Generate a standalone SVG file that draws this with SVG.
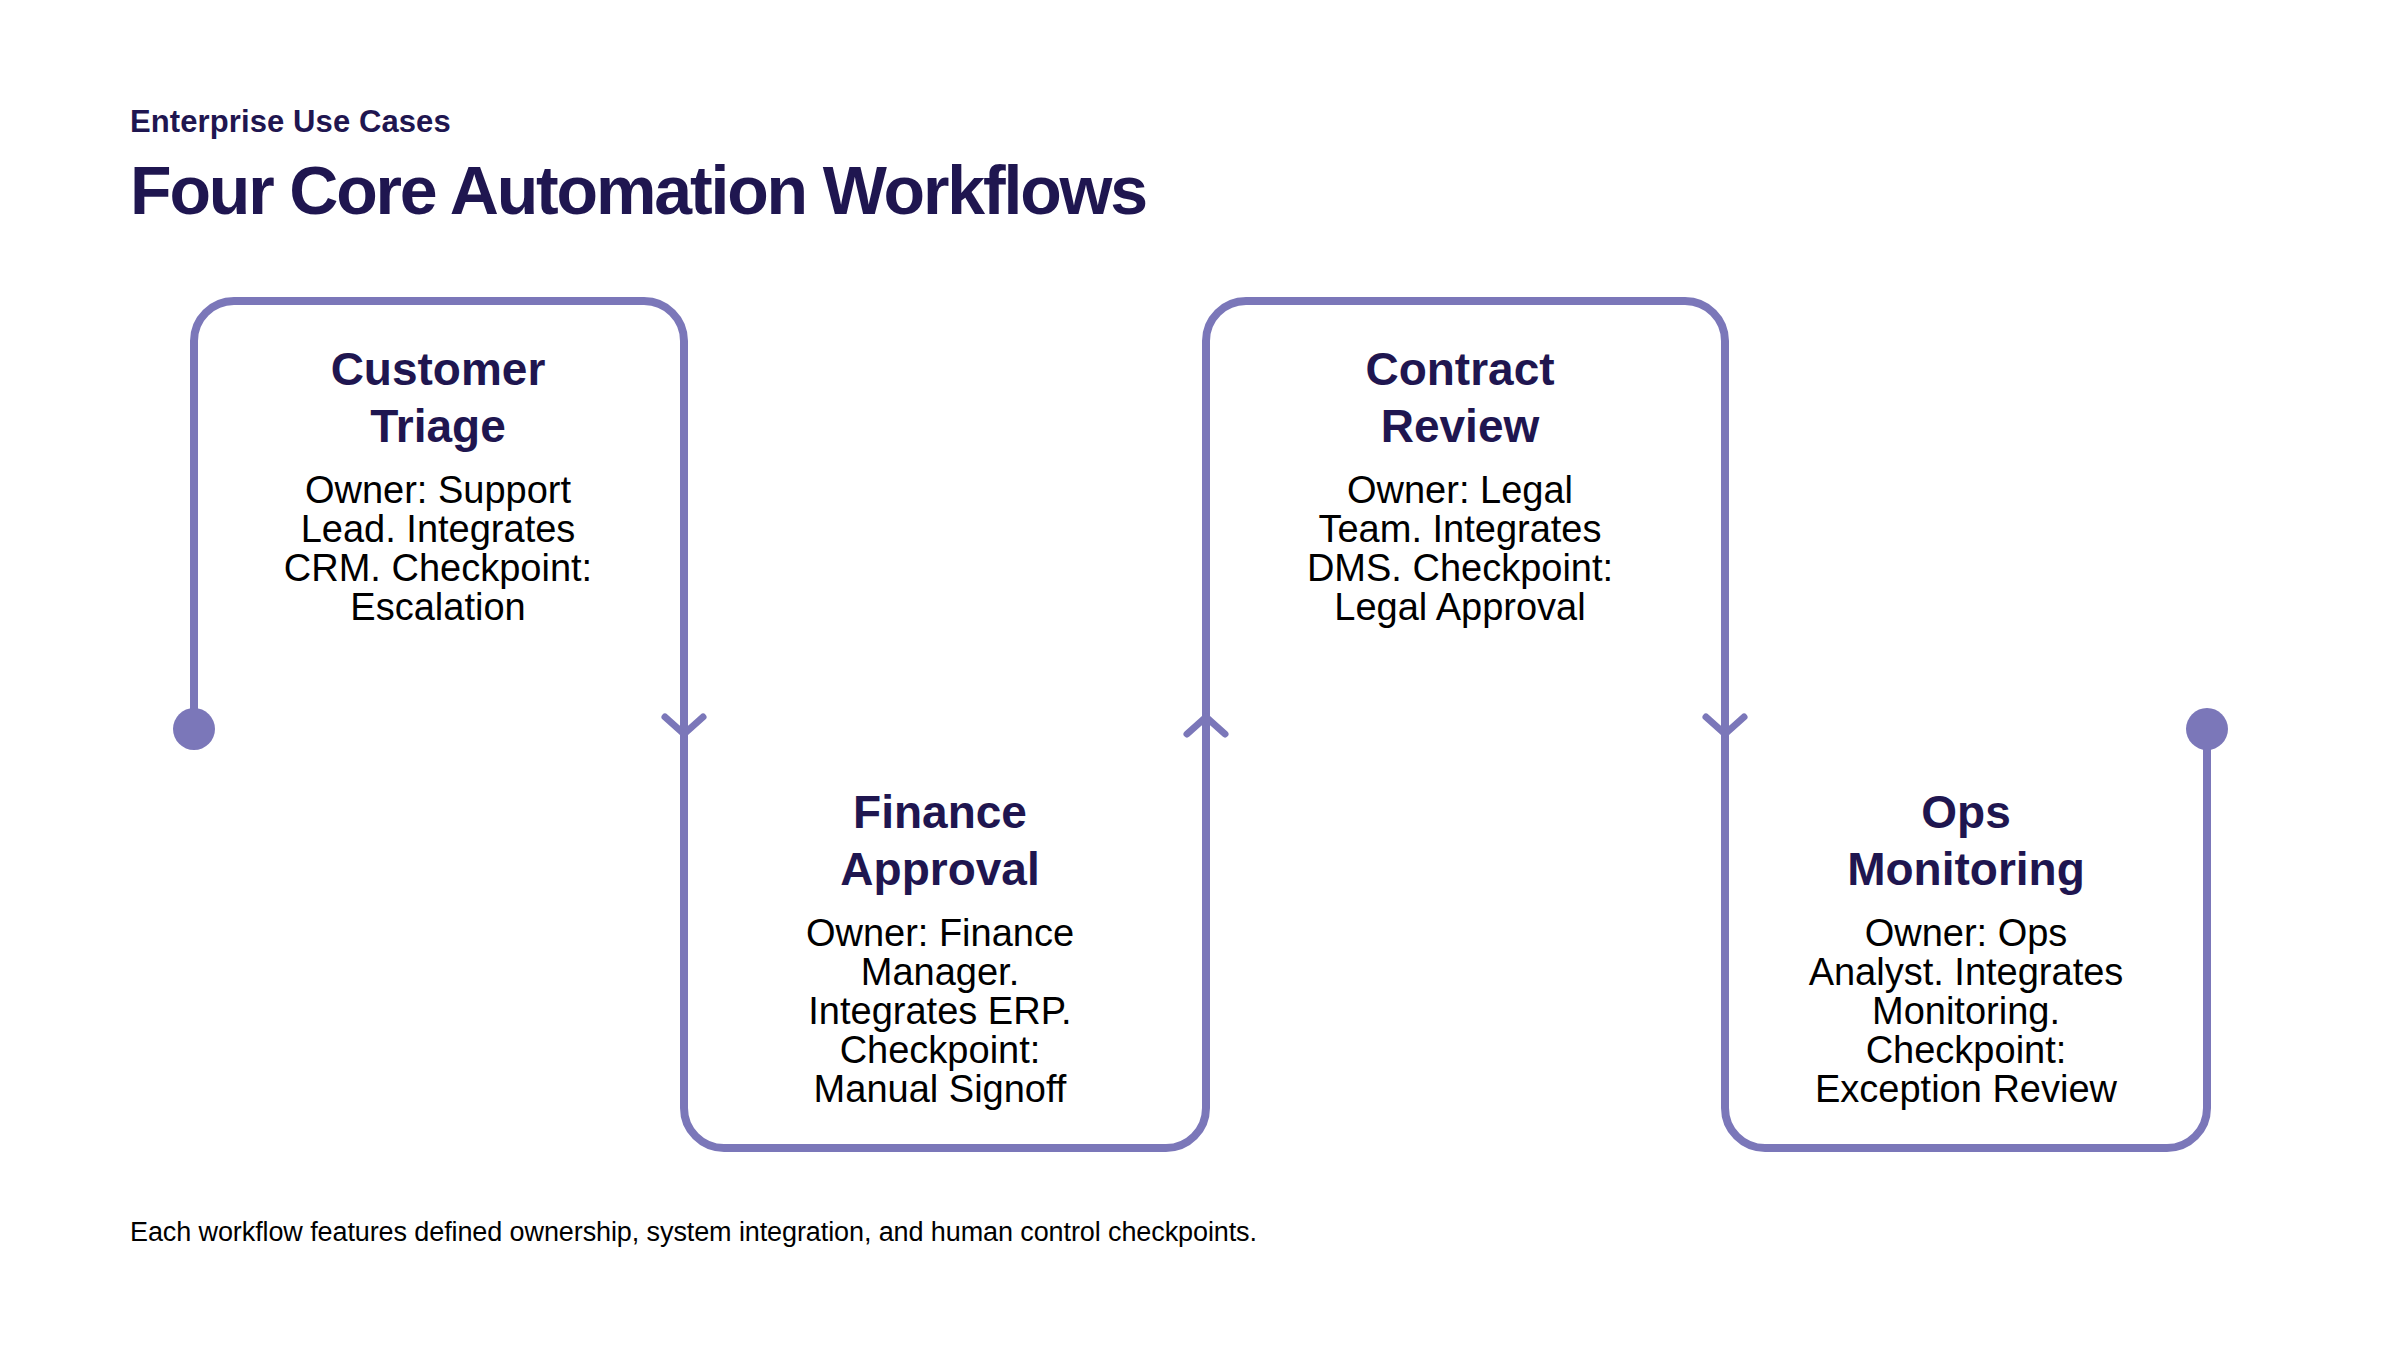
<svg xmlns="http://www.w3.org/2000/svg" width="2400" height="1350" viewBox="0 0 2400 1350">
  <style>
    .bg { fill: #ffffff; }
    .kicker { font-family: "Liberation Sans", Arial, sans-serif; font-weight: 700; font-size: 31px; fill: #1F1650; letter-spacing: 0.1px; }
    .title { font-family: "Liberation Sans", Arial, sans-serif; font-weight: 700; font-size: 68px; fill: #1F1650; letter-spacing: -2.15px; }
    .ntitle { font-family: "Liberation Sans", Arial, sans-serif; font-weight: 700; font-size: 46px; fill: #1F1650; text-anchor: middle; }
    .nbody { font-family: "Liberation Sans", Arial, sans-serif; font-size: 38px; fill: #000000; text-anchor: middle; }
    .foot { font-family: "Liberation Sans", Arial, sans-serif; font-size: 27px; fill: #000000; letter-spacing: -0.1px; }
    .flow { fill: none; stroke: #7B77B9; stroke-width: 8; stroke-linejoin: round; }
    .chev { fill: none; stroke: #7B77B9; stroke-width: 7; stroke-linecap: round; stroke-linejoin: round; }
    .dot { fill: #7B77B9; }
  </style>
  <rect class="bg" x="0" y="0" width="2400" height="1350"/>

  <text class="kicker" x="130" y="132">Enterprise Use Cases</text>
  <text class="title" x="130" y="214">Four Core Automation Workflows</text>

  <g id="connectors">
    <path class="flow" d="M194,729 L194,341 A40,40 0 0 1 234,301 L644,301 A40,40 0 0 1 684,341 L684,1108 A40,40 0 0 0 724,1148 L1166,1148 A40,40 0 0 0 1206,1108 L1206,341 A40,40 0 0 1 1246,301 L1685,301 A40,40 0 0 1 1725,341 L1725,1108 A40,40 0 0 0 1765,1148 L2167,1148 A40,40 0 0 0 2207,1108 L2207,729"/>
    <circle class="dot" cx="194" cy="729" r="21"/>
    <circle class="dot" cx="2207" cy="729" r="21"/>
    <path class="chev" d="M665,717 L684,734 L703,717"/>
    <path class="chev" d="M1187,734 L1206,717 L1225,734"/>
    <path class="chev" d="M1706,717 L1725,734 L1744,717"/>
  </g>

  <g id="node-customer-triage">
    <text class="ntitle" x="438" y="385">Customer</text>
    <text class="ntitle" x="438" y="442">Triage</text>
    <text class="nbody" x="438" y="503">Owner: Support</text>
    <text class="nbody" x="438" y="542">Lead. Integrates</text>
    <text class="nbody" x="438" y="581">CRM. Checkpoint:</text>
    <text class="nbody" x="438" y="620">Escalation</text>
  </g>

  <g id="node-finance-approval">
    <text class="ntitle" x="940" y="828">Finance</text>
    <text class="ntitle" x="940" y="885">Approval</text>
    <text class="nbody" x="940" y="946">Owner: Finance</text>
    <text class="nbody" x="940" y="985">Manager.</text>
    <text class="nbody" x="940" y="1024">Integrates ERP.</text>
    <text class="nbody" x="940" y="1063">Checkpoint:</text>
    <text class="nbody" x="940" y="1102">Manual Signoff</text>
  </g>

  <g id="node-contract-review">
    <text class="ntitle" x="1460" y="385">Contract</text>
    <text class="ntitle" x="1460" y="442">Review</text>
    <text class="nbody" x="1460" y="503">Owner: Legal</text>
    <text class="nbody" x="1460" y="542">Team. Integrates</text>
    <text class="nbody" x="1460" y="581">DMS. Checkpoint:</text>
    <text class="nbody" x="1460" y="620">Legal Approval</text>
  </g>

  <g id="node-ops-monitoring">
    <text class="ntitle" x="1966" y="828">Ops</text>
    <text class="ntitle" x="1966" y="885">Monitoring</text>
    <text class="nbody" x="1966" y="946">Owner: Ops</text>
    <text class="nbody" x="1966" y="985">Analyst. Integrates</text>
    <text class="nbody" x="1966" y="1024">Monitoring.</text>
    <text class="nbody" x="1966" y="1063">Checkpoint:</text>
    <text class="nbody" x="1966" y="1102">Exception Review</text>
  </g>

  <text class="foot" x="130" y="1241">Each workflow features defined ownership, system integration, and human control checkpoints.</text>
</svg>
